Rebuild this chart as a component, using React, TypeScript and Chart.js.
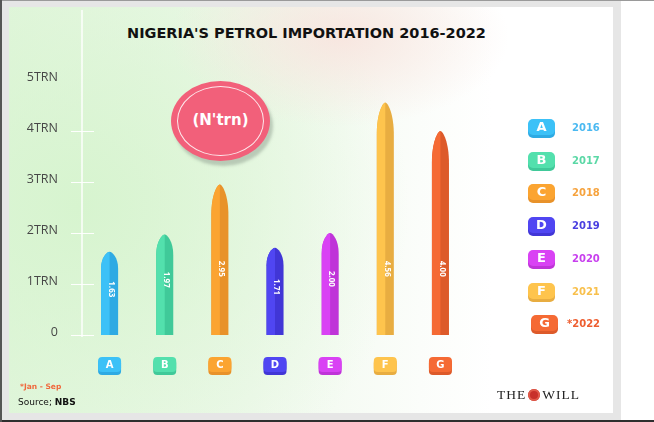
import React, { useEffect, useRef } from "react";
import { Chart, registerables } from "chart.js";

Chart.register(...registerables);

const categories = ["A", "B", "C", "D", "E", "F", "G"];
const years = ["2016", "2017", "2018", "2019", "2020", "2021", "*2022"];
const values = [1.63, 1.97, 2.95, 1.71, 2.0, 4.56, 4.0];
const valueLabels = ["1.63", "1.97", "2.95", "1.71", "2.00", "4.56", "4.00"];
const yTickLabels = ["0", "1TRN", "2TRN", "3TRN", "4TRN", "5TRN"];
const lightColors = ["#3cc1f7", "#53e0ad", "#fba431", "#5046f2", "#d942f4", "#fec44d", "#f56a34"];
const darkColors = ["#2eaae3", "#40c999", "#e8922a", "#4136d6", "#bf34d8", "#e8ad41", "#dd5a2a"];
const yearColors = ["#4bb9f1", "#5bd8a6", "#f6a33e", "#4a3fe0", "#c840ee", "#f8c04d", "#ee5e30"];

const TITLE = "NIGERIA'S PETROL IMPORTATION 2016-2022";
const UNIT = "(N'trn)";
const NOTE = "*Jan - Sep";

function roundRect(ctx: CanvasRenderingContext2D, x: number, y: number, w: number, h: number, r: number) {
  ctx.beginPath();
  ctx.moveTo(x + r, y);
  ctx.lineTo(x + w - r, y);
  ctx.quadraticCurveTo(x + w, y, x + w, y + r);
  ctx.lineTo(x + w, y + h - r);
  ctx.quadraticCurveTo(x + w, y + h, x + w - r, y + h);
  ctx.lineTo(x + r, y + h);
  ctx.quadraticCurveTo(x, y + h, x, y + h - r);
  ctx.lineTo(x, y + r);
  ctx.quadraticCurveTo(x, y, x + r, y);
  ctx.closePath();
}

const decorPlugin = {
  id: "decor",
  beforeDatasetsDraw(chart: any) {
    const ctx = chart.ctx as CanvasRenderingContext2D;
    const area = chart.chartArea;
    const ys = chart.scales.y;
    ctx.save();
    ctx.strokeStyle = "rgba(255,255,255,0.95)";
    ctx.lineWidth = 1.5;
    ctx.beginPath();
    ctx.moveTo(area.left, 10);
    ctx.lineTo(area.left, area.bottom + 2);
    ctx.stroke();
    ctx.lineWidth = 1;
    ctx.beginPath();
    ys.ticks.forEach((_t: any, i: number) => {
      if (i === ys.ticks.length - 1) return;
      const py = Math.round(ys.getPixelForTick(i)) + 0.5;
      ctx.moveTo(area.left - 11, py);
      ctx.lineTo(area.left + 12, py);
    });
    ctx.stroke();
    ctx.restore();
  },
  afterDatasetsDraw(chart: any) {
    const ctx = chart.ctx as CanvasRenderingContext2D;
    const meta = chart.getDatasetMeta(0);
    const ys = chart.scales.y;
    const area = chart.chartArea;
    meta.data.forEach((bar: any, i: number) => {
      const { x, y: top, base, width } = bar.getProps(["x", "y", "base", "width"], true);
      const w = width;
      const l = x - w / 2;
      const r = x + w / 2;
      const h = base - top;
      const tip = Math.min(h * 0.2, 32);
      ctx.save();
      ctx.beginPath();
      ctx.moveTo(l, base);
      ctx.lineTo(l, top + tip);
      ctx.bezierCurveTo(l, top + tip * 0.35, x - w * 0.15, top, x, top);
      ctx.bezierCurveTo(x + w * 0.15, top, r, top + tip * 0.35, r, top + tip);
      ctx.lineTo(r, base);
      ctx.closePath();
      ctx.fillStyle = darkColors[i];
      ctx.fill();
      ctx.clip();
      ctx.fillStyle = lightColors[i];
      ctx.fillRect(l, top, x - l, h);
      ctx.restore();

      // value label
      ctx.save();
      const ly = ys.getPixelForValue(Math.min(values[i] * 0.55, 1.3));
      ctx.translate(x + 1.5, ly);
      ctx.rotate(Math.PI / 2);
      ctx.fillStyle = "#ffffff";
      ctx.font = "bold 8px 'Open Sans', sans-serif";
      ctx.textAlign = "center";
      ctx.textBaseline = "middle";
      ctx.fillText(valueLabels[i], 0, 0);
      ctx.restore();

      // bottom badge
      const bw = 23;
      const bh = 16;
      const by = area.bottom + 22;
      ctx.save();
      roundRect(ctx, x - bw / 2, by + 2, bw, bh, 4);
      ctx.fillStyle = darkColors[i];
      ctx.fill();
      roundRect(ctx, x - bw / 2, by, bw, bh - 1, 4);
      ctx.fillStyle = lightColors[i];
      ctx.fill();
      ctx.fillStyle = "#ffffff";
      ctx.font = "bold 10px 'DejaVu Sans', sans-serif";
      ctx.textAlign = "center";
      ctx.textBaseline = "middle";
      ctx.fillText(categories[i], x, by + bh / 2);
      ctx.restore();
    });
  },
};

function ChartCanvas() {
  const ref = useRef<HTMLCanvasElement | null>(null);
  useEffect(() => {
    if (!ref.current) return;
    const chart = new Chart(ref.current, {
      type: "bar",
      data: {
        labels: categories,
        datasets: [
          {
            data: values,
            backgroundColor: "rgba(0,0,0,0)",
            barPercentage: 0.31,
            categoryPercentage: 1,
          },
        ],
      },
      options: {
        animation: false,
        responsive: false,
        maintainAspectRatio: false,
        layout: { padding: { left: 0, top: 80, right: 186, bottom: 87 } },
        plugins: { legend: { display: false }, tooltip: { enabled: false } },
        scales: {
          x: { display: false, offset: true },
          y: {
            min: 0,
            max: 5,
            afterFit(s: any) {
              s.width = 82;
            },
            grid: { display: false, drawTicks: false },
            border: { display: false },
            ticks: {
              stepSize: 1,
              padding: 24,
              labelOffset: -3,
              color: "#474747",
              font: { family: "'Open Sans', sans-serif", size: 12.5 },
              callback: (v: any) => yTickLabels[Number(v)] ?? "",
            },
          },
        },
      },
      plugins: [decorPlugin],
    } as any);
    return () => chart.destroy();
  }, []);
  return (
    <canvas
      ref={ref}
      width={654}
      height={422}
      style={{ position: "absolute", left: 0, top: 0, width: 654, height: 422 }}
    />
  );
}

export default function App() {
  const legendTop = 119;
  const legendStep = 32.7;
  return (
    <div style={{ position: "fixed", left: 0, top: 0, width: 654, height: 422, background: "#ffffff", overflow: "hidden", fontFamily: "'Open Sans', sans-serif" }}>
      {/* frame */}
      <div style={{ position: "absolute", left: 0, top: 0, width: 621, height: 421, background: "#e6e6e6" }} />
      <div style={{ position: "absolute", left: 0, top: 0, width: 654, height: 1, background: "#9a9a9a" }} />
      <div style={{ position: "absolute", left: 0, top: 420, width: 654, height: 2, background: "#2e2e2e" }} />
      <div style={{ position: "absolute", left: 0, top: 0, width: 2, height: 422, background: "#555555" }} />
      {/* card */}
      <div
        style={{
          position: "absolute",
          left: 9,
          top: 7,
          width: 604,
          height: 406,
          background:
            "radial-gradient(ellipse 170px 90px at 330px 30px, rgba(248,228,222,0.9), rgba(248,228,222,0) 100%), radial-gradient(ellipse 330px 320px at 70px 200px, rgba(214,244,206,0.95), rgba(214,244,206,0) 100%), linear-gradient(90deg, #e3f6de 0%, #eff9ec 40%, #fbfdfa 68%, #ffffff 80%, #ffffff 100%)",
        }}
      />
      {/* title */}
      <div
        style={{
          position: "absolute",
          left: 127,
          top: 25,
          width: 357,
          textAlign: "center",
          fontFamily: "'DejaVu Sans', sans-serif",
          fontWeight: 700,
          fontSize: 14.5,
          color: "#111111",
          whiteSpace: "nowrap",
          letterSpacing: 0,
        }}
      >
        {TITLE}
      </div>
      {/* unit bubble */}
      <div
        style={{
          position: "absolute",
          left: 171,
          top: 81,
          width: 99,
          height: 80,
          borderRadius: "50%",
          background: "#f2607a",
          boxShadow: "3px 5px 3px rgba(150,165,150,0.55)",
        }}
      />
      <div
        style={{
          position: "absolute",
          left: 177,
          top: 86,
          width: 87,
          height: 70,
          borderRadius: "50%",
          border: "1px solid rgba(255,255,255,0.85)",
          boxSizing: "border-box",
        }}
      />
      <div
        style={{
          position: "absolute",
          left: 171,
          top: 111,
          width: 99,
          textAlign: "center",
          color: "#ffffff",
          fontWeight: 700,
          fontSize: 15,
          fontFamily: "'DejaVu Sans', sans-serif",
        }}
      >
        {UNIT}
      </div>
      <ChartCanvas />
      {/* legend */}
      {categories.map((c, i) => {
        const cy = legendTop + i * legendStep;
        const shift = i === 6 ? 3 : 0;
        return (
          <React.Fragment key={c}>
            <div
              style={{
                position: "absolute",
                left: 528 + shift,
                top: cy + 2,
                width: 27,
                height: 17,
                borderRadius: 5,
                background: darkColors[i],
              }}
            />
            <div
              style={{
                position: "absolute",
                left: 528 + shift,
                top: cy,
                width: 27,
                height: 16,
                borderRadius: 5,
                background: lightColors[i],
                color: "#ffffff",
                fontWeight: 700,
                fontSize: 13,
                fontFamily: "'DejaVu Sans', sans-serif",
                textAlign: "center",
                lineHeight: "16px",
              }}
            >
              {c}
            </div>
            <div
              style={{
                position: "absolute",
                left: i === 6 ? 567 : 572,
                top: cy + 2,
                color: yearColors[i],
                fontWeight: 700,
                fontSize: 10,
                fontFamily: "'DejaVu Sans', sans-serif",
                lineHeight: "14px",
              }}
            >
              {years[i]}
            </div>
          </React.Fragment>
        );
      })}
      {/* footer */}
      <div style={{ position: "absolute", left: 20, top: 382, color: "#f0683c", fontWeight: 700, fontSize: 7.5, fontFamily: "'DejaVu Sans', sans-serif" }}>
        {NOTE}
      </div>
      <div style={{ position: "absolute", left: 18, top: 397, color: "#111111", fontSize: 9, fontFamily: "'DejaVu Sans', sans-serif" }}>
        Source; <span style={{ fontWeight: 700 }}>NBS</span>
      </div>
      <div
        style={{
          position: "absolute",
          left: 497,
          top: 387,
          display: "flex",
          alignItems: "center",
          fontFamily: "'Liberation Serif', serif",
          fontSize: 13.5,
          color: "#222222",
          letterSpacing: 1,
        }}
      >
        <span>THE</span>
        <span
          style={{
            display: "inline-block",
            width: 12,
            height: 12,
            borderRadius: "50%",
            background: "#c8302a",
            margin: "0 2px",
            boxShadow: "inset 0 0 0 2px #e05a4a",
          }}
        />
        <span>WILL</span>
      </div>
    </div>
  );
}
